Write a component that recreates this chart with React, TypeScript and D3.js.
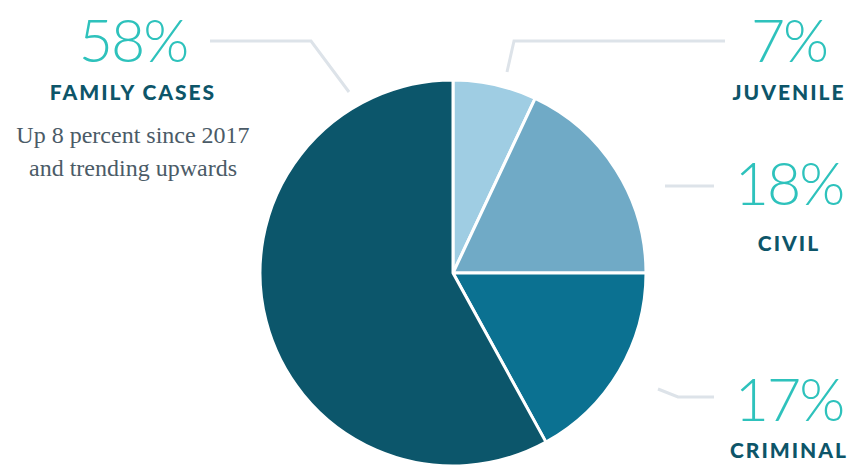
import React, { useEffect, useRef } from 'react';
import * as d3 from 'd3';

// Case share by court type (percent)
const categories = ['Juvenile', 'Civil', 'Criminal', 'Family Cases'];
const shares = [7, 18, 17, 58];
const colors = ['#9fcde3', '#70aac6', '#0b7191', '#0c566b'];

const WIDTH = 867;
const HEIGHT = 465;

// Annotation layout: percent label, category label, leader line
const annotations = [
  { key: 'Juvenile', x: 789, pctY: 62, nameY: 100, line: [[507, 72], [514, 41], [725, 41]] },
  { key: 'Civil', x: 789, pctY: 205, nameY: 251, line: [[665, 186], [714, 186]] },
  { key: 'Criminal', x: 789, pctY: 421, nameY: 458, line: [[658, 389], [678, 397], [714, 397]] },
  { key: 'Family Cases', x: 133, pctY: 62, nameY: 100, line: [[210, 41], [311, 41], [349, 92]] },
];

const subtitleLines = ['Up 8 percent since 2017', 'and trending upwards'];

const App: React.FC = () => {
  const svgRef = useRef<SVGSVGElement>(null);

  useEffect(() => {
    const svg = d3.select(svgRef.current);
    svg.selectAll('*').remove();

    const cx = 453;
    const cy = 273;
    const radius = 193;

    const pie = d3.pie<number>().sort(null).value(d => d);
    const arc = d3.arc<d3.PieArcDatum<number>>().innerRadius(0).outerRadius(radius);

    const g = svg.append('g').attr('transform', `translate(${cx},${cy})`);

    g.selectAll('path')
      .data(pie(shares))
      .enter()
      .append('path')
      .attr('d', arc)
      .attr('fill', (d, i) => colors[i])
      .attr('stroke', '#ffffff')
      .attr('stroke-width', 3)
      .attr('stroke-linejoin', 'round');

    // Leader lines
    const line = d3.line();
    svg.selectAll('.leader')
      .data(annotations)
      .enter()
      .append('path')
      .attr('class', 'leader')
      .attr('d', d => line(d.line as [number, number][]))
      .attr('fill', 'none')
      .attr('stroke', '#dde3e9')
      .attr('stroke-width', 3);

    // Percent labels
    svg.selectAll('.pct')
      .data(annotations)
      .enter()
      .append('text')
      .attr('class', 'pct')
      .attr('x', d => d.x)
      .attr('y', d => d.pctY)
      .attr('text-anchor', 'middle')
      .style('font-family', 'Lato, "Open Sans", sans-serif')
      .style('font-weight', 300)
      .style('font-size', '59px')
      .style('letter-spacing', '-2px')
      .style('fill', '#2ec2bc')
      .text(d => `${shares[categories.indexOf(d.key)]}%`);

    // Category labels
    svg.selectAll('.name')
      .data(annotations)
      .enter()
      .append('text')
      .attr('class', 'name')
      .attr('x', d => d.x)
      .attr('y', d => d.nameY)
      .attr('text-anchor', 'middle')
      .style('font-family', 'Lato, "Open Sans", sans-serif')
      .style('font-weight', 900)
      .style('font-size', '21px')
      .style('letter-spacing', '2px')
      .style('fill', '#0d5569')
      .text(d => d.key.toUpperCase());

    // Subtitle
    svg.selectAll('.sub')
      .data(subtitleLines)
      .enter()
      .append('text')
      .attr('class', 'sub')
      .attr('x', 133)
      .attr('y', (d, i) => 143 + i * 33)
      .attr('text-anchor', 'middle')
      .style('font-family', '"Liberation Serif", "DejaVu Serif", serif')
      .style('font-size', '24px')
      .style('fill', '#4b5b67')
      .text(d => d);
  }, []);

  return (
    <svg
      ref={svgRef}
      width={WIDTH}
      height={HEIGHT}
      style={{ position: 'absolute', left: 0, top: 0, background: '#ffffff' }}
    />
  );
};

export default App;
